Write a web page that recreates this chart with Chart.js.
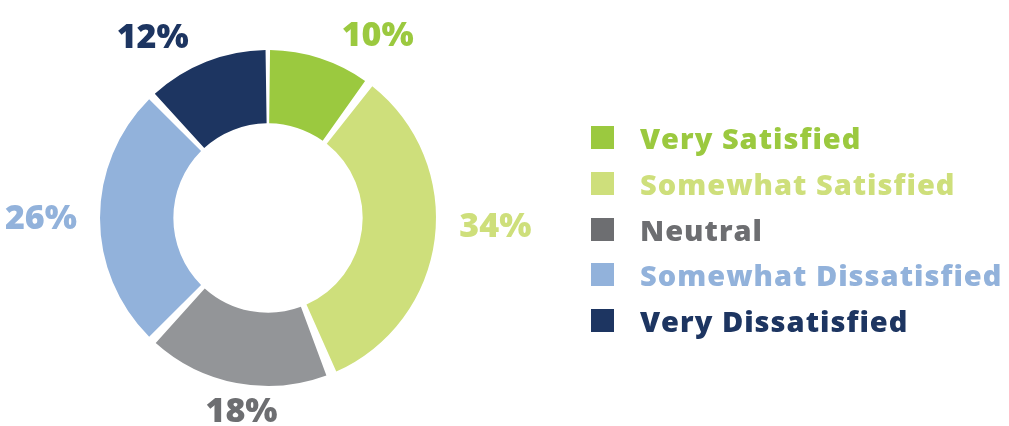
<!DOCTYPE html>
<html>
<head>
<meta charset="utf-8">
<script src="https://cdn.jsdelivr.net/npm/chart.js@4"></script>
<style>
  body { margin: 0; background: #fff; }
  #wrap { position: relative; width: 1009px; height: 426px; }
  #legend { position: absolute; left: 591px; top: 115px; font-family: "Open Sans", Lato, sans-serif; font-weight: 800; font-size: 29px; letter-spacing: 1px; }
  #legend .row { height: 45.7px; display: flex; align-items: center; white-space: nowrap; }
  #legend .box { width: 23px; height: 23px; margin-right: 26px; }
</style>
</head>
<body>
<div id="wrap">
  <canvas id="myChart" width="1009" height="426"></canvas>
  <div id="legend"></div>
</div>
<script>
// satisfaction survey donut

const categories = ['Very Satisfied', 'Somewhat Satisfied', 'Neutral', 'Somewhat Dissatisfied', 'Very Dissatisfied'];
const percents = [10, 34, 18, 26, 12];
const sliceColors = ['#9BC93F', '#CEDF7B', '#939598', '#92B2DB', '#1D3561'];
const textColors = ['#9BC93F', '#CEDF7B', '#6D6E71', '#92B2DB', '#1D3561'];

// label placement tweaks (degrees off the slice middle)
const labelNudge = [13, -5, -3, 0, -11];

const outsideLabels = {
    id: 'outsideLabels',
    afterDatasetsDraw(chart) {
        const ctx = chart.ctx;
        const meta = chart.getDatasetMeta(0);
        ctx.save();
        ctx.font = '800 34px "Open Sans", Lato, sans-serif';
        ctx.textAlign = 'center';
        ctx.textBaseline = 'middle';
        meta.data.forEach((arc, i) => {
            const p = arc.getProps(['x', 'y', 'startAngle', 'endAngle', 'outerRadius'], true);
            const mid = (p.startAngle + p.endAngle) / 2 + labelNudge[i] * Math.PI / 180;
            const txt = percents[i] + '%';
            const w = ctx.measureText(txt).width / 2;
            const h = 13;
            const ext = Math.abs(Math.cos(mid)) * w + Math.abs(Math.sin(mid)) * h;
            const r = p.outerRadius + 12 + 16 * Math.abs(Math.cos(mid)) + ext;
            ctx.fillStyle = textColors[i];
            ctx.fillText(txt, p.x + Math.cos(mid) * r, p.y + Math.sin(mid) * r + 1);
        });
        ctx.restore();
    }
};

new Chart(document.getElementById('myChart').getContext('2d'), {
    type: 'doughnut',
    data: {
        labels: categories,
        datasets: [{
            data: percents,
            backgroundColor: sliceColors,
            borderWidth: 0,
            spacing: 10
        }]
    },
    options: {
        responsive: false,
        animation: false,
        cutout: '55%',
        layout: { padding: { left: 100, right: 573, top: 50, bottom: 40 } },
        plugins: {
            legend: { display: false },
            tooltip: { enabled: false }
        }
    },
    plugins: [outsideLabels]
});

const legendDiv = document.getElementById('legend');
legendDiv.innerHTML = categories.map((c, i) =>
    `<div class="row"><div class="box" style="background:${textColors[i]}"></div><span style="color:${textColors[i]}">${c}</span></div>`
).join('');
</script>
</body>
</html>
